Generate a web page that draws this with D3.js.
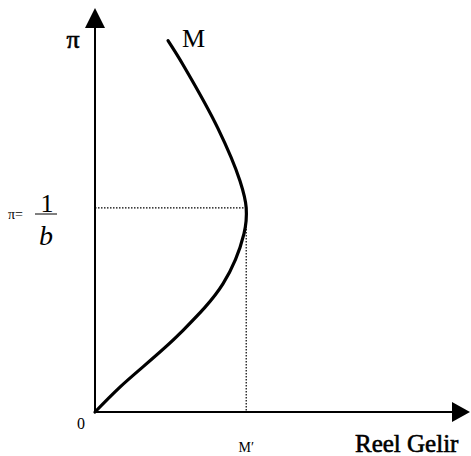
<!DOCTYPE html>
<html>
<head>
<meta charset="utf-8">
<script src="https://cdn.jsdelivr.net/npm/d3@7"></script>
<style>
  body { margin: 0; background: #fff; }
  svg { display: block; }
  text { font-family: "Liberation Serif", "Times New Roman", serif; fill: #000; }
  .heavy { stroke: #000; stroke-width: 0.6px; }
</style>
</head>
<body>
<div id="chart"></div>
<script>
var width = 471, height = 456;

// reel gelir (M' = 1) and pi (1/b = 1) along the M curve
var income = [0, 0.165, 0.562, 0.847, 0.985, 1.0, 0.959, 0.813, 0.582, 0.483];
var piValues = [0, 0.122, 0.385, 0.629, 0.873, 1.0, 1.132, 1.390, 1.702, 1.820];
var peakIncome = 1;   // M'
var peakPi = 1;       // pi = 1/b
var xMax = 2.48, yMax = 1.98;

var x = d3.scaleLinear().domain([0, xMax]).range([95, 470]);
var y = d3.scaleLinear().domain([0, yMax]).range([412, 8]);

var svg = d3.select('#chart').append('svg')
    .attr('width', width)
    .attr('height', height);

// axes
svg.append('line')
    .attr('x1', x(0)).attr('y1', y(0))
    .attr('x2', x(0)).attr('y2', y(yMax) + 12)
    .attr('stroke', '#000').attr('stroke-width', 2);
svg.append('line')
    .attr('x1', x(0)).attr('y1', y(0))
    .attr('x2', x(xMax) - 12).attr('y2', y(0))
    .attr('stroke', '#000').attr('stroke-width', 2);

// arrow heads
svg.append('path')
    .attr('d', `M${x(0)},${y(yMax)} L${x(0) - 10},${y(yMax) + 20} L${x(0) + 10},${y(yMax) + 20} Z`)
    .attr('fill', '#000');
svg.append('path')
    .attr('d', `M${x(xMax)},${y(0)} L${x(xMax) - 18},${y(0) - 10} L${x(xMax) - 18},${y(0) + 10} Z`)
    .attr('fill', '#000');

// dotted guides
svg.append('line')
    .attr('x1', x(0)).attr('y1', y(peakPi))
    .attr('x2', x(peakIncome)).attr('y2', y(peakPi))
    .attr('stroke', '#000').attr('stroke-width', 1.2)
    .attr('stroke-dasharray', '1.5,1.5');
svg.append('line')
    .attr('x1', x(peakIncome)).attr('y1', y(peakPi))
    .attr('x2', x(peakIncome)).attr('y2', y(0))
    .attr('stroke', '#000').attr('stroke-width', 1.2)
    .attr('stroke-dasharray', '1.5,1.5');

// M curve
var pts = income.map((d, i) => [d, piValues[i]]);
var line = d3.line()
    .x(d => x(d[0]))
    .y(d => y(d[1]))
    .curve(d3.curveCatmullRom.alpha(0.5));
svg.append('path')
    .datum(pts)
    .attr('d', line)
    .attr('fill', 'none')
    .attr('stroke', '#000')
    .attr('stroke-width', 3.2)
    .attr('stroke-linecap', 'round');

// labels
svg.append('text').attr('x', 73).attr('y', 48)
    .attr('class', 'heavy')
    .attr('text-anchor', 'middle')
    .style('font-size', '26px')
    .text('π');
svg.append('text').attr('x', 182).attr('y', 47)
    .style('font-size', '26px')
    .text('M');

svg.append('text').attr('x', 8).attr('y', 219)
    .style('font-size', '14px')
    .text('π=');
svg.append('text').attr('x', 47).attr('y', 212)
    .attr('text-anchor', 'middle')
    .style('font-size', '26px')
    .text('1');
svg.append('line')
    .attr('x1', 35).attr('x2', 57)
    .attr('y1', 214).attr('y2', 214)
    .attr('stroke', '#000').attr('stroke-width', 1);
svg.append('text').attr('x', 46).attr('y', 245)
    .attr('text-anchor', 'middle')
    .style('font-size', '28px').style('font-style', 'italic')
    .text('b');

svg.append('text').attr('x', 81).attr('y', 429)
    .attr('text-anchor', 'middle')
    .style('font-size', '16px')
    .text('0');
svg.append('text').attr('x', x(peakIncome)).attr('y', 452)
    .attr('text-anchor', 'middle')
    .style('font-size', '14px')
    .text('M′');
svg.append('text').attr('x', 355).attr('y', 452)
    .attr('class', 'heavy')
    .style('font-size', '25px')
    .text('Reel Gelir');
</script>
</body>
</html>
